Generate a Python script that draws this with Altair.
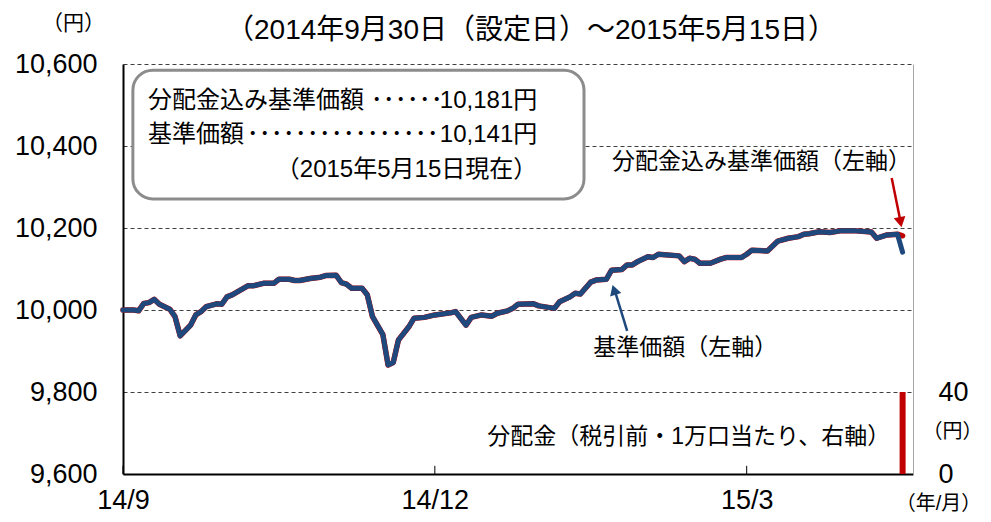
import altair as alt
import pandas as pd

FONT = "Liberation Sans, Noto Sans CJK JP, sans-serif"
NUMFONT = "Liberation Sans, Arial, sans-serif"

# ---- data (x = trading-day index from 2014-09-30) ----
day_idx = [0, 2, 3, 4, 5, 6, 7, 8, 9, 10, 11, 13, 14, 15, 16, 18, 19, 20, 21, 24, 25, 27, 29, 30,
           32, 33, 34, 36, 38, 39, 41, 42, 43, 44, 46, 47, 48, 50, 51, 52, 53, 55, 56, 58, 60,
           63, 64, 66, 67, 69, 71, 72, 74, 75, 76, 79, 80, 83, 84, 86, 87, 88, 90, 91, 93, 94,
           96, 97, 98, 99, 101, 102, 103, 107, 108, 109, 110, 111, 113, 115, 116, 119, 120, 121,
           124, 126, 128, 130, 131, 132, 134, 136, 138, 141, 144, 145, 147, 149, 150]
nav = [10000, 10000, 9998, 10016, 10018, 10026, 10014, 10008, 10002, 9984, 9937, 9963, 9988, 9996,
       10008, 10015, 10014, 10032, 10037, 10059, 10059, 10065, 10065, 10075,
       10075, 10072, 10072, 10077, 10080, 10084, 10085, 10067, 10063, 10053, 10053, 10037, 9984,
       9940, 9866, 9872, 9927, 9959, 9980, 9982, 9988,
       9993, 9996, 9963, 9982, 9988, 9985, 9992, 9998, 10004, 10014, 10015, 10010, 10004, 10020,
       10032, 10041, 10039, 10068, 10073, 10075, 10097,
       10099, 10110, 10110, 10118, 10130, 10128, 10136, 10132, 10118, 10126, 10124, 10114, 10114,
       10124, 10128, 10128, 10136, 10146,
       10144, 10168, 10175, 10179, 10185, 10186, 10191, 10189, 10193, 10193, 10190, 10175, 10183,
       10185, 10141]
# NAV including distribution: identical to NAV until the distribution date
nav_with_dist = nav[:-1] + [10181]

dist_idx = [150]
dist_amount = [40]

y_ticks = [9600, 9800, 10000, 10200, 10400, 10600]
x_tick_idx = [0, 60, 120]
x_tick_labels = ["14/9", "14/12", "15/3"]
right_ticks = [0, 40]

title_text = "（2014年9月30日（設定日）～2015年5月15日）"

# ---- frames ----
df_nav = pd.DataFrame({"x": day_idx, "y": nav})
df_navd = pd.DataFrame({"x": day_idx, "y": nav_with_dist})
df_dist = pd.DataFrame({"x": dist_idx, "y": [0], "y2": dist_amount})

label_expr = "''"
for v, t in zip(reversed(x_tick_idx), reversed(x_tick_labels)):
    label_expr = f"datum.value == {v} ? '{t}' : ({label_expr})"

x_axis = alt.Axis(values=x_tick_idx, labelExpr=label_expr, grid=False, ticks=False,
                  domainColor="black", domainWidth=2, labelFont=NUMFONT, labelFontSize=27,
                  labelColor="black", labelPadding=13, labelFlush=False, labelOverlap=False,
                  title="（年/月）", titleFont=FONT, titleFontSize=20, titleFontWeight="normal",
                  titleAngle=0, titleX=815, titleY=29, titleBaseline="middle", titleAlign="center",
                  titleColor="black")
y_axis = alt.Axis(values=y_ticks, format=",d", grid=True, gridDash=[4, 3], gridColor="#404040",
                  gridWidth=1, ticks=False, domainColor="black", domainWidth=2,
                  labelFont=NUMFONT, labelFontSize=27, labelColor="black", labelPadding=26,
                  labelFlush=False,
                  title="（円）", titleFont=FONT, titleFontSize=21, titleFontWeight="normal",
                  titleAngle=0, titleX=-50, titleY=-41, titleBaseline="middle",
                  titleAlign="center", titleColor="black")
r_axis = alt.Axis(orient="right", values=right_ticks, format="d", grid=False, ticks=False,
                  domainColor="#A6A6A6", domainWidth=1, labelFont=NUMFONT, labelFontSize=27,
                  labelColor="black", labelPadding=25, labelFlush=False,
                  title="（円）", titleFont=FONT, titleFontSize=20, titleFontWeight="normal",
                  titleAngle=0, titleX=39, titleY=367, titleBaseline="middle",
                  titleAlign="center", titleColor="black")

X = alt.X("x:Q", scale=alt.Scale(domain=[0, 152], nice=False, zero=False), axis=x_axis)
Y = alt.Y("y:Q", scale=alt.Scale(domain=[9600, 10600], nice=False, zero=False), axis=y_axis)

red_line = alt.Chart(df_navd).mark_line(color="#C00000", strokeWidth=5.5, strokeJoin="round",
                                        strokeCap="round").encode(x=X, y=Y)
blue_line = alt.Chart(df_nav).mark_line(color="#1F497D", strokeWidth=5, strokeJoin="round",
                                        strokeCap="round").encode(x=X, y=Y)

# inward x ticks
df_ticks = pd.DataFrame({"x": x_tick_idx, "y": [9600] * 3, "y2": [9620] * 3})
ticks = alt.Chart(df_ticks).mark_rule(color="black", strokeWidth=1).encode(
    x=X, y=Y, y2=alt.Y2("y2"))

# annotation box
df_box = pd.DataFrame({"x": [1.9], "x2": [88.7], "y": [10271], "y2": [10585]})
box = alt.Chart(df_box).mark_rect(fill="white", stroke="#8C8C8C", strokeWidth=3,
                                  cornerRadius=20).encode(x=X, x2=alt.X2("x2"), y=Y, y2=alt.Y2("y2"))

df_left = pd.DataFrame({"x": [4.8, 4.8], "y": [10510, 10427],
                        "t": ["分配金込み基準価額", "基準価額"]})
df_lead = pd.DataFrame({"x": [54.6, 42.3], "y": [10510, 10427],
                        "t": ["･･････", "････････････････"]})
df_box_right = pd.DataFrame({"x": [79.7, 79.7, 79.7],
                             "y": [10510, 10427, 10341],
                             "t": ["10,181円", "10,141円", "（2015年5月15日現在）"]})
df_right = pd.DataFrame({"x": [151.6, 147.6],
                         "y": [10361, 9690],
                         "t": ["分配金込み基準価額（左軸）", "分配金（税引前・1万口当たり、右軸）"]})
df_center = pd.DataFrame({"x": [108.2], "y": [9907], "t": ["基準価額（左軸）"]})
df_title = pd.DataFrame({"x": [78.5], "y": [10680], "t": [title_text]})

t_left = alt.Chart(df_left).mark_text(align="left", baseline="middle", font=FONT, fontSize=24,
                                      color="black").encode(x=X, y=Y, text="t:N")
t_lead = alt.Chart(df_lead).mark_text(align="center", baseline="middle", font=FONT, fontSize=24,
                                      color="black").encode(x=X, y=Y, text="t:N")
t_box_right = alt.Chart(df_box_right).mark_text(align="right", baseline="middle", font=FONT,
                                                fontSize=24, color="black").encode(x=X, y=Y, text="t:N")
t_right = alt.Chart(df_right).mark_text(align="right", baseline="middle", font=FONT, fontSize=23,
                                        color="black").encode(x=X, y=Y, text="t:N")
t_center = alt.Chart(df_center).mark_text(align="center", baseline="middle", font=FONT,
                                          fontSize=23, color="black").encode(x=X, y=Y, text="t:N")
t_title = alt.Chart(df_title).mark_text(align="center", baseline="middle", font=FONT,
                                        fontSize=28, color="black").encode(x=X, y=Y, text="t:N")

# arrows
df_red_arrow = pd.DataFrame({"x": [147.9], "y": [10322], "x2": [149.5], "y2": [10222]})
df_red_head = pd.DataFrame({"x": [149.6], "y": [10214]})
df_blue_arrow = pd.DataFrame({"x": [97.0], "y": [9949], "x2": [94.8], "y2": [10040]})
df_blue_head = pd.DataFrame({"x": [94.5], "y": [10049]})

red_arrow = alt.Chart(df_red_arrow).mark_rule(color="#C00000", strokeWidth=2.5).encode(
    x=X, y=Y, x2=alt.X2("x2"), y2=alt.Y2("y2"))
red_head = alt.Chart(df_red_head).mark_point(shape="triangle-down", filled=True, opacity=1,
                                             color="#C00000", size=140, angle=349).encode(x=X, y=Y)
blue_arrow = alt.Chart(df_blue_arrow).mark_rule(color="#1F497D", strokeWidth=2.5).encode(
    x=X, y=Y, x2=alt.X2("x2"), y2=alt.Y2("y2"))
blue_head = alt.Chart(df_blue_head).mark_point(shape="triangle-up", filled=True, opacity=1,
                                               color="#1F497D", size=140, angle=342).encode(x=X, y=Y)

left_group = alt.layer(red_line, blue_line, ticks, box, t_left, t_lead, t_box_right, t_right,
                       t_center, t_title, red_arrow, red_head, blue_arrow, blue_head)

bar = alt.Chart(df_dist).mark_rule(color="#C00000", strokeWidth=6).encode(
    x=X,
    y=alt.Y("y:Q", scale=alt.Scale(domain=[0, 200], nice=False, zero=True), axis=r_axis),
    y2=alt.Y2("y2"))

chart = alt.layer(left_group, bar).resolve_scale(y="independent").properties(
    width=790, height=410,
    autosize=alt.AutoSizeParams(type="none"),
    padding={"left": 115, "top": 56, "right": 70, "bottom": 40},
    background="white",
).configure_view(stroke=None)

chart.save("out.html", embed_options={"renderer": "svg", "actions": False})
